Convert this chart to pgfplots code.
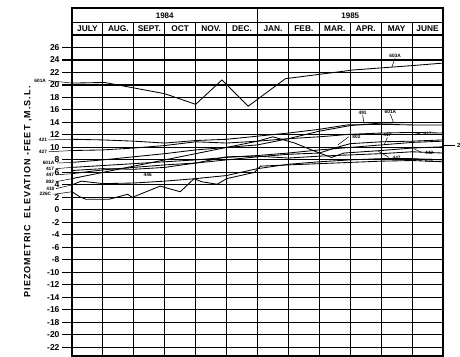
\documentclass[border=0pt]{standalone}
\usepackage{pgfplots}
\pgfplotsset{compat=1.18}
\usepackage{fontspec}
\setmainfont{Liberation Sans}
\newcommand{\wellfont}{\bfseries\fontsize{4.8}{5}\selectfont}
\begin{document}
\begin{tikzpicture}[
  ser/.style={black, line width=0.85pt, mark=none},
  lbl/.style={font=\wellfont, inner sep=0.5pt},
  ldr/.style={line width=0.5pt},
]
\useasboundingbox (0,0) rectangle (460pt,356pt);
\begin{axis}[
  at={(72pt,0pt)}, anchor=south west,
  scale only axis, width=371pt, height=321pt,
  xmin=0, xmax=12, ymin=-23.4, ymax=28,
  xtick={0,...,12}, xticklabels={}, major x tick style={draw=none},
  ytick={-22,-20,...,26}, ytick pos=left, tick align=outside,
  major tick length=10pt,
  xmajorgrids, ymajorgrids,
  grid style={black, line width=1.1pt},
  axis line style={line width=1.5pt},
  major y tick style={black, line width=1.1pt},
  /pgf/number format/assume math mode=true,
  yticklabel style={font=\bfseries\fontsize{8.5}{9}\selectfont, xshift=1pt},
  clip=false,
]
% 603A
\addplot[ser] coordinates {(0,20.3) (1.05,20.4) (3,18.6) (4,16.9) (4.85,20.8) (5.7,16.6) (6.9,21.0) (9.1,22.4) (11,23.1) (12,23.5)};
% 421
\addplot[ser] coordinates {(0,11.3) (1,11.2) (2,11.0) (3,10.7) (4,11.1) (5,11.3) (6,11.8) (7,12.3) (8,12.9) (8.9,13.6) (10,13.7) (11,13.6) (12,13.6)};
% 601A
\addplot[ser] coordinates {(0,7.6) (1,8.0) (2,8.5) (3,9.0) (4,9.6) (5,10.0) (6,10.4) (7,11.4) (8,12.6) (9,13.5) (10,13.9) (11,14.0) (12,14.0)};
% 427
\addplot[ser] coordinates {(0,9.5) (1,9.6) (2,9.9) (3,10.3) (4,10.9) (5,10.7) (6,11.0) (7,11.4) (8,11.7) (9,12.1) (10,12.3) (11,12.4) (12,12.3)};
% 417
\addplot[ser] coordinates {(0,6.8) (1,7.1) (2,7.4) (3,7.7) (4,8.0) (5,8.4) (6,8.7) (7,9.1) (8,9.6) (9,10.0) (10,10.4) (11,10.8) (12,11.0)};
% 802
\addplot[ser] coordinates {(0,5.0) (1,6.0) (2,7.0) (3,8.0) (4,9.0) (5,10.0) (6,11.0) (6.5,11.7) (7.2,10.7) (8,9.1) (8.7,10.2) (9,10.6) (10,10.9) (11,11.0) (12,11.2)};
% 447
\addplot[ser] coordinates {(0,5.8) (1,6.4) (2,6.8) (3,7.2) (4,7.5) (5,8.0) (6,8.5) (7,8.9) (8,9.1) (8.4,8.4) (8.8,9.1) (10,9.5) (11,9.9) (12,10.1)};
% 446
\addplot[ser] coordinates {(0,6.3) (1,6.6) (2,6.5) (3,6.8) (4,7.5) (5,8.5) (6,8.6) (7,8.3) (8,8.6) (9,8.8) (10,9.0) (11,9.3) (12,9.1)};
% 418
\addplot[ser] coordinates {(0,4.0) (0.3,4.6) (1,4.2) (2,4.3) (3,4.6) (4,5.0) (5,5.5) (6,6.6) (7,7.3) (8,7.7) (9,8.0) (10,8.2) (11,8.2) (12,8.0)};
% 226C
\addplot[ser] coordinates {(0,2.9) (0.25,2.1) (0.45,1.7) (1.2,1.7) (1.8,2.5) (1.95,2.0) (2.85,3.8) (3.5,2.9) (3.95,5.0) (4.2,4.5) (4.7,4.1) (5.0,5.0) (5.9,6.0) (6.1,7.0) (7,7.2) (8,7.4) (9,7.6) (10,7.8) (11,7.9) (12,7.7)};
% line leaving the right edge
\addplot[ser] coordinates {(12,10.3) (12.4,10.3)};

% header
\draw[line width=1.5pt] (axis cs:0,28) rectangle (axis cs:12,32.3);
\draw[line width=1.1pt] (axis cs:0,30) -- (axis cs:12,30);
\draw[line width=1.1pt] (axis cs:6,30) -- (axis cs:6,32.3);
\pgfplotsinvokeforeach{1,...,11}{\draw[line width=1.1pt] (axis cs:#1,28) -- (axis cs:#1,30);}
\node[font=\bfseries\fontsize{8}{9}\selectfont] at (axis cs:3,31.15) {1984};
\node[font=\bfseries\fontsize{8}{9}\selectfont] at (axis cs:9,31.15) {1985};
\pgfplotsforeachungrouped \m/\t in {0.5/JULY,1.5/AUG.,2.5/SEPT.,3.5/OCT,4.5/NOV.,5.5/DEC.,6.5/JAN.,7.5/FEB.,8.5/MAR.,9.5/APR.,10.5/MAY,11.5/JUNE}{
  \edef\temp{\noexpand\node[font=\noexpand\bfseries\noexpand\fontsize{8.3}{9}\noexpand\selectfont] at (axis cs:\m,29) {\t};}
  \temp
}

% well labels on the left
\node[lbl] at (axis cs:-1.03,20.7) {601A};
\draw[ldr] (axis cs:-0.76,20.7) -- (axis cs:0,20.3);
\node[lbl] at (axis cs:-0.94,11.2) {421};
\draw[ldr] (axis cs:-0.76,11.2) -- (axis cs:0,11.3);
\node[lbl] at (axis cs:-0.94,9.3) {427};
\draw[ldr] (axis cs:-0.76,9.3) -- (axis cs:0,9.5);
\node[lbl] at (axis cs:-0.76,7.5) {601A};
\draw[ldr] (axis cs:-0.49,7.5) -- (axis cs:0,7.6);
\node[lbl] at (axis cs:-0.71,6.6) {417};
\draw[ldr] (axis cs:-0.53,6.6) -- (axis cs:0,6.8);
\node[lbl] at (axis cs:-0.71,5.6) {447};
\draw[ldr] (axis cs:-0.53,5.6) -- (axis cs:0,5.8);
\node[lbl] at (axis cs:-0.71,4.5) {802};
\draw[ldr] (axis cs:-0.53,4.5) -- (axis cs:0,5.0);
\node[lbl] at (axis cs:-0.70,3.4) {418};
\draw[ldr] (axis cs:-0.52,3.4) -- (axis cs:0,4.0);
\node[lbl] at (axis cs:-0.86,2.5) {226C};
\draw[ldr] (axis cs:-0.6,2.5) -- (axis cs:0,2.9);

% labels inside the plot
\node[lbl] at (axis cs:2.45,5.6) {446};
\node[lbl] at (axis cs:10.45,24.7) {603A};
\draw[ldr] (axis cs:10.45,24.3) -- (axis cs:10.35,22.9);
\node[lbl] at (axis cs:9.4,15.6) {491};
\draw[ldr] (axis cs:9.4,15.2) -- (axis cs:9.45,13.7);
\node[lbl] at (axis cs:10.3,15.7) {601A};
\draw[ldr] (axis cs:10.3,15.3) -- (axis cs:10.4,13.95);
\node[lbl] at (axis cs:9.2,11.7) {802};
\draw[ldr] (axis cs:8.95,11.7) -- (axis cs:8.6,10.4);
\node[lbl] at (axis cs:10.2,12.0) {417};
\draw[ldr] (axis cs:10.2,11.6) -- (axis cs:10.1,10.45);
\node[lbl] at (axis cs:11.5,12.2) {427};
\draw[ldr] (axis cs:11.25,12.2) -- (axis cs:11.0,12.4);
\node[lbl] at (axis cs:10.5,8.3) {447};
\draw[ldr] (axis cs:10.25,8.4) -- (axis cs:9.9,9.4);
\node[lbl] at (axis cs:11.55,9.1) {442};
\draw[ldr] (axis cs:11.3,9.2) -- (axis cs:11.05,9.8);
\node[lbl] at (axis cs:11.55,7.9) {418};
\draw[ldr] (axis cs:11.3,7.9) -- (axis cs:11.05,8.2);
\node[font=\bfseries\fontsize{6}{7}\selectfont, anchor=west, inner sep=0pt] at (axis cs:12.45,10.3) {2};
\end{axis}
\node[rotate=90, font=\bfseries\fontsize{9}{10}\selectfont\addfontfeature{LetterSpace=12}] at (28pt,164pt) {PIEZOMETRIC\ \ ELEVATION\ -FEET\ ,M.S.L.};
\end{tikzpicture}
\end{document}
